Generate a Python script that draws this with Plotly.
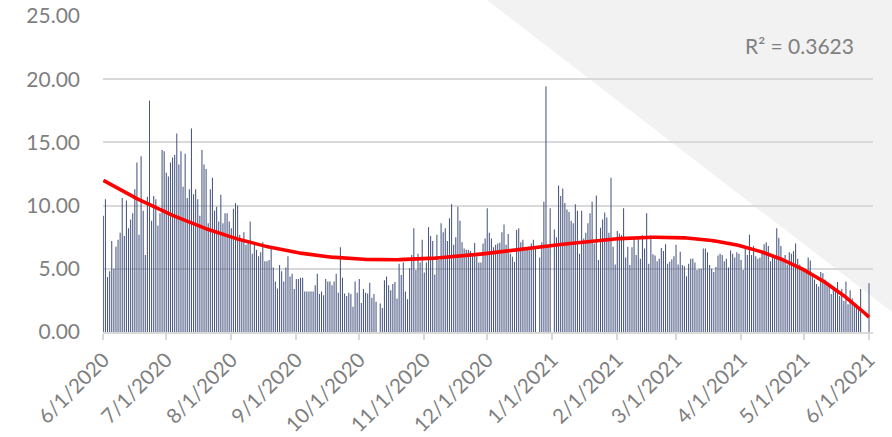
import numpy as np
import pandas as pd
import plotly.graph_objects as go

start_date = "2020-06-01"

daily_values = [
    9.2, 10.5, 4.35, 4.8, 7.2, 5.0, 6.75, 7.3, 7.85, 10.6,
    7.6, 10.4, 8.2, 8.9, 9.4, 11.3, 13.4, 7.7, 13.9, 9.6,
    6.1, 10.7, 18.3, 8.8, 10.75, 10.5, 8.4, 9.4, 14.4, 14.3,
    12.6, 12.3, 13.4, 13.8, 14.0, 15.7, 13.25, 14.3, 11.5, 14.1,
    10.6, 11.3, 16.1, 10.9, 11.3, 10.5, 9.2, 14.4, 13.25, 12.9,
    8.6, 11.3, 12.2, 9.6, 9.9, 8.75, 10.85, 8.6, 9.4,
    9.4, 8.75, 8.2, 9.75, 10.2, 10.0, 7.7, 7.3, 7.9, 6.9,
    7.2, 8.75, 6.2, 7.1, 6.5, 6.0, 6.3, 7.1, 5.6, 5.6,
    5.7, 6.7, 5.1, 4.0, 3.45, 5.3, 4.8, 4.0, 5.1, 6.0,
    4.4, 4.6, 3.4, 4.2, 4.2, 4.3, 4.3, 3.2, 3.2, 3.2,
    3.2, 3.2, 3.7, 4.6, 3.0, 3.2, 2.9, 4.2, 4.0, 4.0,
    3.7, 4.0, 4.6, 3.1, 6.7, 4.3, 3.05, 2.85, 3.1, 3.0,
    2.0,
    4.0, 3.1, 4.2, 2.3, 3.4, 3.1, 3.05, 3.9, 2.7, 3.0,
    2.4, None, 2.25, 1.9, 4.1, 4.4, 3.7, 3.3, 3.8, 3.95,
    2.65, 5.4, 4.5, 5.5, 3.2, 2.6, 5.05, 6.1, 8.2, 4.9,
    6.2, 5.5, 7.3, 4.7, 5.5, 8.3, 7.6, 7.2, 4.55, 7.7,
    5.7, 8.6, 7.9, 8.2, 7.2, 9.0, 10.1, 6.9, 7.5, 9.9,
    8.8, 7.1, 6.6, 6.5, 6.5, 6.4, 6.0, 7.05, 6.0, 5.5,
    5.5,
    7.0, 7.4, 9.8, 7.85, 7.4, 6.7, 6.9, 7.0, 7.06, 7.9,
    8.5, 6.9, 7.75, 6.2, 5.95, 5.55, 8.06, 8.2, 7.1, 7.3,
    6.55, 6.6, 6.75, 7.0, 7.3, 6.6, None, 5.9, 7.1, 10.3,
    19.45, 6.8, 9.8, None, 8.1, 7.5, 11.6, 10.75, 11.35, 10.2,
    9.7, 9.5, 8.8, 8.6, 10.1, 9.6, 6.2, 9.6, 7.4, 7.85,
    8.6, 9.4, 10.3, 7.0, 10.8, 5.7, 8.25, 8.9, 9.45, 9.05,
    7.85,
    12.2, 6.75, 5.35, 8.0, 7.8, 7.65, 9.8, 5.9, 6.75, 5.3,
    6.7, 7.5, 6.1, 7.5, 5.8, 7.65, 6.6, 9.4, 5.4, 7.65,
    6.15, 6.05, 5.6, 5.8, 6.65, 6.4, 6.95, 5.4, 5.55, 5.75,
    6.0, 6.9, 5.35, 6.35, 5.3, 5.2, 4.4, 5.4, 5.8, 5.8,
    5.5, 4.9, 5.0, 5.0, 6.6, 6.6, 6.3, 5.3, 5.0, 4.75,
    5.15, 6.05, 6.2, 6.1, 5.6, 5.8, 5.1, 6.45, 6.2, 5.9,
    6.3,
    6.2, 5.7, 4.9, 6.7, 6.1, 7.7, 6.1, 6.8, 6.0, 5.8,
    5.9, 6.3, 6.95, 7.1, 6.8, 5.6, 6.1, 5.9, 8.2, 7.45,
    6.8, 5.75, 6.1, 5.35, 6.3, 6.2, 6.4, 7.0, 5.8, 5.35,
    4.95, 4.8, 4.7, 5.9, 5.65, 4.4, 4.15, 3.8, 3.6, 4.75,
    4.65, 4.15, 3.9, 3.65, 3.0, 3.4, 3.25, 3.95, 2.85, 3.4,
    2.45, 4.0, 2.2, 3.3, 2.65, 2.3, 2.2, 2.05, 3.4, None,
    None, None, 3.85,
]

tick_dates = ["2020-06-01", "2020-07-01", "2020-08-01", "2020-09-01", "2020-10-01",
              "2020-11-01", "2020-12-01", "2021-01-01", "2021-02-01", "2021-03-01",
              "2021-04-01", "2021-05-01", "2021-06-01"]
tick_labels = ["6/1/2020", "7/1/2020", "8/1/2020", "9/1/2020", "10/1/2020",
               "11/1/2020", "12/1/2020", "1/1/2021", "2/1/2021", "3/1/2021",
               "4/1/2021", "5/1/2021", "6/1/2021"]
y_ticks = [0, 5, 10, 15, 20, 25]
r2_label = "R² = 0.3623"
trend_degree = 4

dates = pd.date_range(start_date, periods=len(daily_values), freq="D")
yv = np.array([np.nan if v is None else v for v in daily_values], dtype=float)
xi = np.arange(len(yv)) / 100.0
m = ~np.isnan(yv)
coef = np.polyfit(xi[m], yv[m], trend_degree)
trend = np.polyval(coef, xi)

FONT = "Lato, 'Open Sans', sans-serif"
GRAY = "#7f7f7f"
GRID = "#d9d9d9"

fig = go.Figure()
fig.add_trace(go.Bar(x=dates, y=daily_values,
                     marker=dict(color="rgba(70,84,126,0.99)", line=dict(width=0)),
                     hoverinfo="skip"))
fig.add_trace(go.Scatter(x=dates, y=trend, mode="lines",
                         line=dict(color="#ff0000", width=3.6), hoverinfo="skip"))

L, R, T, B = 103, 873, 16, 332
W, H = 892, 437
def px(x):
    return (x - L) / (R - L)
def py(y):
    return (B - y) / (B - T)

fig.add_shape(type="path", xref="paper", yref="paper", layer="below",
              path=f"M {px(487)} {py(0)} L {px(892)} {py(0)} L {px(892)} {py(312)} Z",
              fillcolor="#f2f2f2", line=dict(width=0))

fig.add_annotation(xref="paper", yref="paper", x=px(856), y=py(45), xanchor="right", yanchor="middle",
                   text=r2_label, showarrow=False, font=dict(family=FONT, size=21, color=GRAY))

start = pd.Timestamp(start_date)
fig.update_layout(
    width=W, height=H,
    margin=dict(l=L, r=W - R, t=T, b=H - B, autoexpand=False),
    paper_bgcolor="white", plot_bgcolor="rgba(0,0,0,0)",
    showlegend=False, bargap=0.5,
    font=dict(family=FONT, size=21, color=GRAY),
    xaxis=dict(type="date", automargin=False,
               range=[start - pd.Timedelta(hours=4), start + pd.Timedelta(days=366.9)],
               tickvals=tick_dates, ticktext=tick_labels, tickangle=-45,
               showgrid=False, showline=True, linecolor=GRID, linewidth=1.5,
               ticks="outside", ticklen=6, tickcolor=GRID, tickwidth=1.5,
               tickfont=dict(family=FONT, size=20.5, color=GRAY)),
    yaxis=dict(range=[0, 25], tickvals=y_ticks, tickformat=".2f", automargin=False,
               showgrid=True, gridcolor=GRID, gridwidth=1.5, zeroline=False,
               showline=False, ticks="", ticklabelstandoff=22,
               tickfont=dict(family=FONT, size=21, color=GRAY)),
)

fig.write_html("out.html", config={"displayModeBar": False},
               post_script="document.body.style.margin='0';document.body.style.overflow='hidden';")
